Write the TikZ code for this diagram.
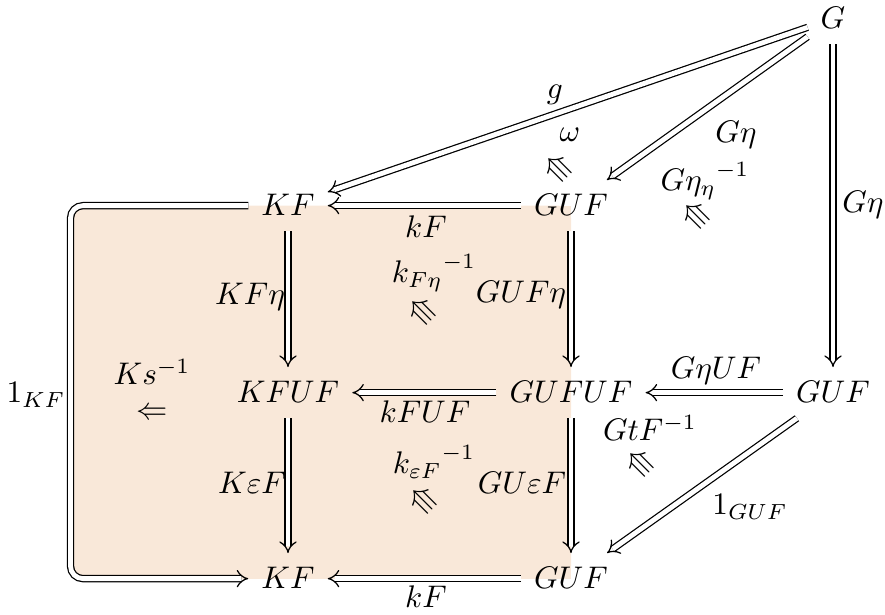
\documentclass[tikz,border=0pt]{standalone}
\usepackage{amsmath,amssymb}
\usetikzlibrary{arrows.meta,calc,backgrounds,cd}
\definecolor{peach}{RGB}{249,232,217}
\begin{document}
\begin{tikzpicture}[x=0.32pt,y=-0.32pt,
  obj/.style={anchor=base, inner xsep=4pt, inner ysep=4pt, text height=7pt, text depth=1pt},
  dbl/.style={double, double equal sign distance, line width=0.4pt, -{cm implies}},
  lbl/.style={inner sep=0pt},
  cell/.style={inner sep=0pt, rotate=135},
]
\useasboundingbox (0,0) rectangle (885,615);
% objects
\node[obj] (G)     at (833,28)  {$G$};
\node[obj] (KFt)   at (288,215) {$KF$};
\node[obj] (GUFt)  at (571,215) {$GUF$};
\node[obj] (KFUF)  at (288,402) {$KFUF$};
\node[obj] (GUFUF) at (571,402) {$GUFUF$};
\node[obj] (GUFr)  at (833,402) {$GUF$};
\node[obj] (KFb)   at (288,588) {$KF$};
\node[obj] (GUFb)  at (571,588) {$GUF$};
\coordinate (Lc) at (70.5,400);
% shaded region
\begin{scope}[on background layer]
  \fill[peach, rounded corners=4pt] (Lc |- KFt.center) rectangle (GUFb.center);
  \fill[peach] ($(Lc |- KFt.center)+(8pt,0)$) rectangle (GUFb.center);
\end{scope}
% connectors
\draw[dbl] (G) -- (KFt);
\draw[dbl] (G) -- (GUFt);
\draw[dbl] (G) -- (GUFr);
\draw[dbl] (GUFt) -- (KFt);
\draw[dbl] (KFt) -- (KFUF);
\draw[dbl] (GUFt) -- (GUFUF);
\draw[dbl] (GUFUF) -- (KFUF);
\draw[dbl] (GUFr) -- (GUFUF);
\draw[dbl] (KFUF) -- (KFb);
\draw[dbl] (GUFUF) -- (GUFb);
\draw[dbl] (GUFb) -- (KFb);
\draw[dbl] (GUFr) -- (GUFb);
\draw[dbl, rounded corners=4pt] (KFt.west) -- (KFt.west -| Lc) -- (KFb.west -| Lc) -- (KFb.west);
% labels
\node[lbl] (lg)     at (555,95)  {$g$};
\node[lbl] (lom)    at (570,135) {$\omega$};
\node[cell] (com)   at (558,168) {$\Rrightarrow$};
\node[lbl] (lGe)    at (736,135) {$G\eta$};
\node[lbl] (lGee)   at (705,181) {${G\eta_\eta}^{-1}$};
\node[cell] (cGee)  at (696,215) {$\Rrightarrow$};
\node[lbl] (lGer)   at (863,205) {$G\eta$};
\node[lbl] (lkFt)   at (426,227) {$kF$};
\node[lbl] (lkFe)   at (434,273) {${k_{F\eta}}^{-1}$};
\node[cell] (ckFe)  at (422,311) {$\Rrightarrow$};
\node[lbl] (lGUFe)  at (521,295) {$GUF\eta$};
\node[lbl] (lKFe)   at (250,297) {$KF\eta$};
\node[lbl] (lKs)    at (152,372) {$Ks^{-1}$};
\node[lbl] (cKs)    at (152,414) {$\Leftarrow$};
\node[lbl] (l1KF)   at (36,395)  {$1_{KF}$};
\node[lbl] (lKeF)   at (252,483) {$K\varepsilon F$};
\node[lbl] (lkFUF)  at (425,412) {$kFUF$};
\node[lbl] (lkeF)   at (434,462) {${k_{\varepsilon F}}^{-1}$};
\node[cell] (ckeF)  at (423,500) {$\Rrightarrow$};
\node[lbl] (lGUeF)  at (522,483) {$GU\varepsilon F$};
\node[lbl] (lkFb)   at (426,597) {$kF$};
\node[lbl] (lGeUF)  at (716,371) {$G\eta UF$};
\node[lbl] (lGtF)   at (650,428) {$GtF^{-1}$};
\node[cell] (cGtF)  at (640,463) {$\Rrightarrow$};
\node[lbl] (l1GUF)  at (750,507) {$1_{GUF}$};
\end{tikzpicture}
\end{document}
